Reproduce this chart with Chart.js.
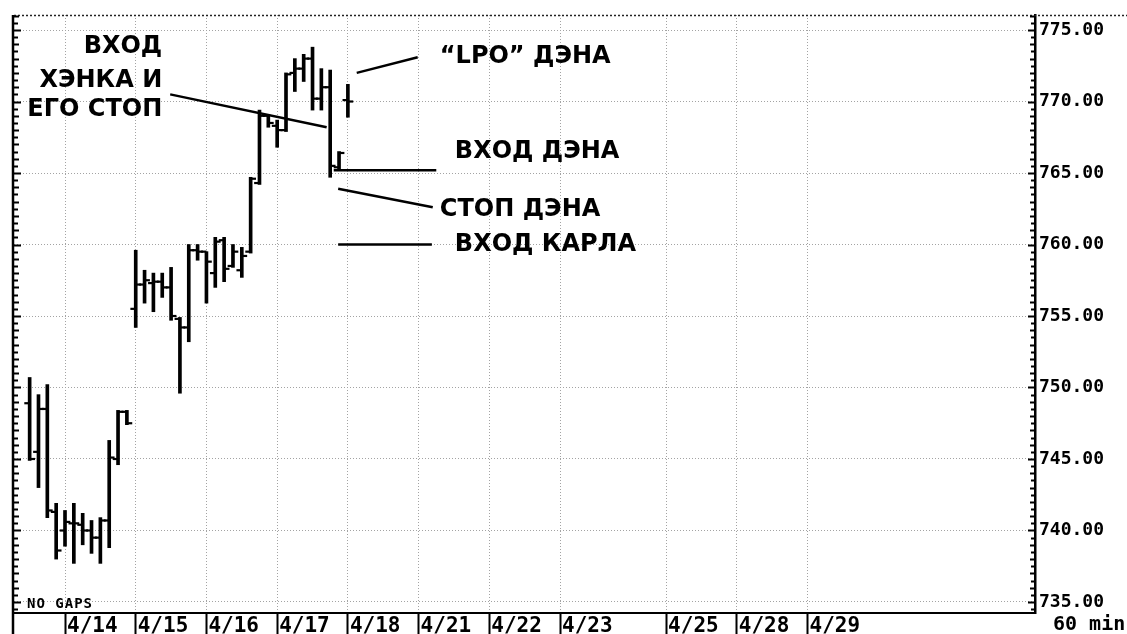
<!DOCTYPE html>
<html>
<head>
<meta charset="utf-8">
<script src="https://cdn.jsdelivr.net/npm/chart.js@4.4.1/dist/chart.umd.min.js"></script>
<style>
    html, body { margin: 0; padding: 0; background: #fff; }
    #chart { display: block; }
</style>
</head>
<body>
<canvas id="chart" width="1127" height="634"></canvas>
<script>
    // 60 min bars, index 0 = first bar of 4/14
    var barIndex = [-4, -3, -2, -1, 0, 1, 2, 3, 4, 5, 6, 7,
        8, 9, 10, 11, 12, 13, 14, 15,
        16, 17, 18, 19, 20, 21, 22, 23,
        24, 25, 26, 27, 28, 29, 30, 31,
        32];
    var opens = [748.9, 745.5, 748.5, 741.3, 740.0, 740.5, 740.4, 740.0, 739.5, 740.7, 745.0, 748.3,
        755.5, 757.2, 757.3, 757.4, 757.0, 754.8, 754.2, 759.6,
        759.5, 758.0, 760.3, 758.5, 758.2, 759.5, 764.3, 769.0,
        768.3, 768.0, 772.0, 772.3, 773.0, 770.2, 771.0, 765.4,
        770.1];
    var highs = [750.7, 749.5, 750.2, 741.9, 741.4, 741.9, 741.2, 740.7, 740.9, 746.3, 748.4, 748.4,
        759.6, 758.2, 758.0, 758.0, 758.4, 754.9, 760.0, 760.0,
        759.5, 760.5, 760.5, 760.0, 759.8, 764.7, 769.4, 769.1,
        768.7, 772.0, 773.0, 773.3, 773.8, 772.3, 772.2, 766.5,
        771.2];
    var lows = [744.9, 743.0, 740.9, 738.0, 738.9, 737.7, 739.0, 738.4, 737.7, 738.8, 744.6, 747.4,
        754.2, 755.9, 755.3, 756.3, 754.7, 749.6, 753.2, 758.9,
        755.9, 757.0, 757.4, 758.4, 757.7, 759.4, 764.2, 768.2,
        766.8, 767.9, 770.7, 771.4, 769.4, 769.4, 764.7, 765.2,
        768.9];
    var closes = [745.0, 748.5, 741.4, 738.6, 740.6, 740.5, 740.0, 739.5, 740.7, 745.1, 748.3, 747.5,
        757.2, 757.5, 757.4, 757.0, 755.0, 754.2, 759.6, 759.5,
        758.8, 760.2, 758.3, 759.5, 759.2, 764.6, 769.0, 768.5,
        768.0, 771.9, 772.3, 773.0, 770.2, 771.0, 765.5, 766.4,
        770.0];

    var dayTicks = [0, 8, 16, 24, 32, 40, 48, 56, 68, 76, 84];
    var dayLabels = ['4/14', '4/15', '4/16', '4/17', '4/18', '4/21', '4/22', '4/23', '4/25', '4/28', '4/29'];
    var priceTicks = [735, 740, 745, 750, 755, 760, 765, 770, 775];

    // annotation lines: [bar index, price]
    var hankLine = [[11.9, 770.5], [29.6, 768.2]];
    var lpoLine = [[33.0, 772.0], [39.9, 773.1]];
    var danEntryLine = [[30.4, 765.2], [42.0, 765.2]];
    var danStopLine = [[30.9, 763.9], [41.6, 762.6]];
    var carlEntryLine = [[30.9, 760.0], [41.5, 760.0]];

    var notes = [
        { text: 'ВХОД', x: 11.0, y: 773.8, align: 'right' },
        { text: 'ХЭНКА И', x: 11.0, y: 771.45, align: 'right' },
        { text: 'ЕГО СТОП', x: 11.0, y: 769.4, align: 'right' },
        { text: '\u201CLPO\u201D ДЭНА', x: 42.4, y: 773.1, align: 'left' },
        { text: 'ВХОД ДЭНА', x: 44.1, y: 766.5, align: 'left' },
        { text: 'СТОП ДЭНА', x: 42.4, y: 762.4, align: 'left' },
        { text: 'ВХОД КАРЛА', x: 44.1, y: 760.0, align: 'left' }
    ];

    var TICK_OFFSET = 0.3;
    var MINOR_STEP = 0.5;
    var monoFont = '"DejaVu Sans Mono", "Liberation Mono", monospace';

    function toPoints(pairs){
        return pairs.map(function(p){ return { x: p[0], y: p[1] }; });
    }

    function lineSet(pairs){
        return {
            type: 'line',
            data: toPoints(pairs),
            borderColor: '#000',
            borderWidth: 2.5,
            pointRadius: 0,
            fill: false
        };
    }

    var framePlugin = {
        id: 'frame',
        afterDraw: function(chart){
            var c = chart.ctx, a = chart.chartArea, ys = chart.scales.y, xs = chart.scales.x;
            c.save();

            // dotted top border, runs past the price axis
            c.strokeStyle = '#222';
            c.lineWidth = 1.5;
            c.setLineDash([2, 2]);
            c.beginPath();
            c.moveTo(a.left, a.top + 0.5);
            c.lineTo(chart.width, a.top + 0.5);
            c.stroke();
            c.setLineDash([]);

            // left frame line
            c.lineWidth = 2.5;
            c.strokeStyle = '#000';
            c.beginPath();
            c.moveTo(a.left - 1, a.top);
            c.lineTo(a.left - 1, chart.height);
            c.stroke();

            // small ticks on both price edges
            c.lineWidth = 2;
            var v = Math.ceil(ys.min / MINOR_STEP) * MINOR_STEP;
            for (; v <= ys.max; v += MINOR_STEP) {
                var py = Math.round(ys.getPixelForValue(v)) + 0.5;
                var len = (v % 5 === 0) ? 7 : (v % 1 === 0 ? 5 : 4);
                c.beginPath();
                c.moveTo(a.right, py);
                c.lineTo(a.right - len, py);
                c.moveTo(a.left - 1, py);
                c.lineTo(a.left - 1 + len + 1, py);
                c.stroke();
            }

            // small captions
            c.fillStyle = '#000';
            c.textBaseline = 'middle';
            c.textAlign = 'left';
            c.font = 'bold 14px ' + monoFont;
            c.letterSpacing = '1px';
            c.fillText('NO GAPS', a.left + 13, a.bottom - 9);
            c.font = 'bold 20px ' + monoFont;
            c.letterSpacing = '0px';
            c.fillText('60 min', a.right + 18, a.bottom + 12);

            // notes
            c.font = 'bold 24px "DejaVu Sans", "Liberation Sans", sans-serif';
            notes.forEach(function(n){
                c.textAlign = n.align;
                c.fillText(n.text, xs.getPixelForValue(n.x), ys.getPixelForValue(n.y));
            });
            c.restore();
        }
    };

    function initChart(){
        var ctx = document.getElementById('chart').getContext('2d');
        var datasets = [
            {
                type: 'bar',
                data: barIndex.map(function(x, i){ return { x: x, y: [lows[i], highs[i]] }; }),
                backgroundColor: '#000',
                borderWidth: 0,
                barThickness: 3
            },
            {
                type: 'line',
                data: barIndex.map(function(x, i){ return { x: x - TICK_OFFSET, y: opens[i] }; }),
                showLine: false,
                pointStyle: 'line',
                pointRadius: 2.7,
                pointBorderWidth: 2.2,
                pointBorderColor: '#000'
            },
            {
                type: 'line',
                data: barIndex.map(function(x, i){ return { x: x + TICK_OFFSET, y: closes[i] }; }),
                showLine: false,
                pointStyle: 'line',
                pointRadius: 2.7,
                pointBorderWidth: 2.2,
                pointBorderColor: '#000'
            },
            lineSet(hankLine),
            lineSet(lpoLine),
            lineSet(danEntryLine),
            lineSet(danStopLine),
            lineSet(carlEntryLine)
        ];

        new Chart(ctx, {
            type: 'bar',
            data: { datasets: datasets },
            plugins: [framePlugin],
            options: {
                responsive: false,
                animation: false,
                events: [],
                devicePixelRatio: 1,
                layout: { padding: { left: 14, top: 15, right: 0, bottom: 0 } },
                plugins: { legend: { display: false }, tooltip: { enabled: false } },
                scales: {
                    x: {
                        type: 'linear',
                        position: 'bottom',
                        offset: false,
                        min: -5.77,
                        max: 109.73,
                        afterFit: function(s){ s.height = 21; },
                        afterBuildTicks: function(s){
                            s.ticks = dayTicks.map(function(v){ return { value: v }; });
                        },
                        ticks: {
                            autoSkip: false,
                            maxRotation: 0,
                            align: 'start',
                            labelOffset: 2,
                            padding: -20,
                            color: '#000',
                            font: { family: monoFont, size: 21, weight: 'bold' },
                            callback: function(v, i){ return dayLabels[i]; }
                        },
                        grid: {
                            offset: false,
                            color: '#a3a3a3',
                            lineWidth: 1,
                            tickLength: 21,
                            tickColor: '#000',
                            tickWidth: 2,
                            tickBorderDash: []
                        },
                        border: { display: true, color: '#000', width: 2, dash: [1, 2] }
                    },
                    y: {
                        type: 'linear',
                        position: 'right',
                        min: 734.23,
                        max: 776.05,
                        afterFit: function(s){ s.width = 92; },
                        afterBuildTicks: function(s){
                            s.ticks = priceTicks.map(function(v){ return { value: v }; });
                        },
                        ticks: {
                            padding: 4,
                            color: '#000',
                            font: { family: monoFont, size: 18, weight: 'bold' },
                            callback: function(v){ return v.toFixed(2); }
                        },
                        grid: { color: '#a3a3a3', lineWidth: 1, drawTicks: false },
                        border: { display: true, color: '#000', width: 2.5, dash: [1, 2] }
                    }
                }
            }
        });
    }

    initChart();
</script>
</body>
</html>
